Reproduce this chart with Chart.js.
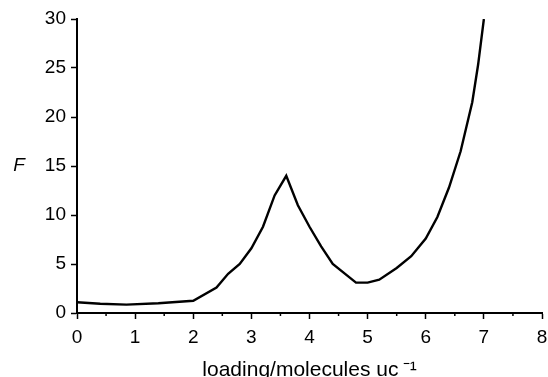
<!DOCTYPE html>
<html>
<head>
<meta charset="utf-8">
<script src="https://cdn.jsdelivr.net/npm/chart.js@4"></script>
<style>
  html, body { margin: 0; padding: 0; background: #fff; }
</style>
</head>
<body>
<canvas id="chart" width="548" height="377"></canvas>
<script>
// loading (molecules per unit cell) and F
const loading = [0, 0.4, 0.85, 1.4, 2.0, 2.4, 2.6, 2.8, 3.0, 3.2, 3.4, 3.6, 3.8, 4.0, 4.2, 4.4, 4.8, 5.0, 5.2, 5.5, 5.75, 6.0, 6.2, 6.4, 6.6, 6.8, 6.9, 7.0];
const fValues = [1.1, 0.95, 0.85, 1.0, 1.25, 2.6, 4.0, 5.0, 6.6, 8.8, 12.0, 14.0, 11.0, 8.8, 6.8, 5.0, 3.1, 3.1, 3.4, 4.6, 5.8, 7.6, 9.8, 12.8, 16.5, 21.5, 25.3, 30];
const xTicks = [0, 1, 2, 3, 4, 5, 6, 7, 8];
const yTicks = [0, 5, 10, 15, 20, 25, 30];
const xMinor = [0.5, 1.5, 2.5, 3.5, 4.5, 5.5, 6.5, 7.5];

const font = "'Liberation Sans', Arial, sans-serif";

// small ticks between the labelled ones, plus the F label
const extras = {
    id: 'extras',
    afterDraw(chart) {
        const ctx = chart.ctx;
        const xs = chart.scales.x, ys = chart.scales.y;
        const y0 = ys.getPixelForValue(0);
        ctx.save();
        ctx.strokeStyle = '#000';
        ctx.lineWidth = 1.5;
        xMinor.forEach(v => {
            const px = xs.getPixelForValue(v);
            ctx.beginPath();
            ctx.moveTo(px, y0);
            ctx.lineTo(px, y0 + 3);
            ctx.stroke();
        });
        ctx.fillStyle = '#000';
        ctx.font = 'italic 19px ' + font;
        ctx.textAlign = 'center';
        ctx.textBaseline = 'middle';
        ctx.fillText('F', 19, ys.getPixelForValue(15));
        ctx.restore();
    }
};

new Chart(document.getElementById('chart'), {
    type: 'line',
    data: {
        datasets: [{
            data: loading.map((x, i) => ({ x: x, y: fValues[i] })),
            borderColor: '#000',
            borderWidth: 2.4,
            pointRadius: 0,
            tension: 0,
            fill: false
        }]
    },
    options: {
        responsive: false,
        animation: false,
        plugins: { legend: { display: false }, tooltip: { enabled: false } },
        layout: { padding: { top: 19, right: 6, left: 0, bottom: 0 } },
        scales: {
            x: {
                type: 'linear',
                min: 0,
                max: 8,
                afterBuildTicks: s => { s.ticks = xTicks.map(v => ({ value: v })); },
                afterFit: s => { s.height = 64; s.paddingRight = 0; s.paddingLeft = 0; },
                ticks: { color: '#000', font: { family: font, size: 19 }, padding: 7, maxRotation: 0 },
                grid: { drawOnChartArea: false, drawTicks: true, tickLength: 6, tickColor: '#000', tickWidth: 1.5 },
                border: { color: '#000', width: 2 },
                title: {
                    display: true,
                    text: 'loading/molecules uc\u2009\u207B\u00B9',
                    color: '#000',
                    font: { family: font, size: 21 },
                    padding: { top: 0, bottom: -6 }
                }
            },
            y: {
                min: 0,
                max: 30,
                afterBuildTicks: s => { s.ticks = yTicks.map(v => ({ value: v })); },
                afterFit: s => { s.width = 77; s.paddingTop = 0; s.paddingBottom = 0; },
                ticks: { color: '#000', font: { family: font, size: 19 }, padding: 5 },
                grid: { drawOnChartArea: false, drawTicks: true, tickLength: 6, tickColor: '#000', tickWidth: 1.5 },
                border: { color: '#000', width: 2 }
            }
        }
    },
    plugins: [extras]
});
</script>
</body>
</html>
